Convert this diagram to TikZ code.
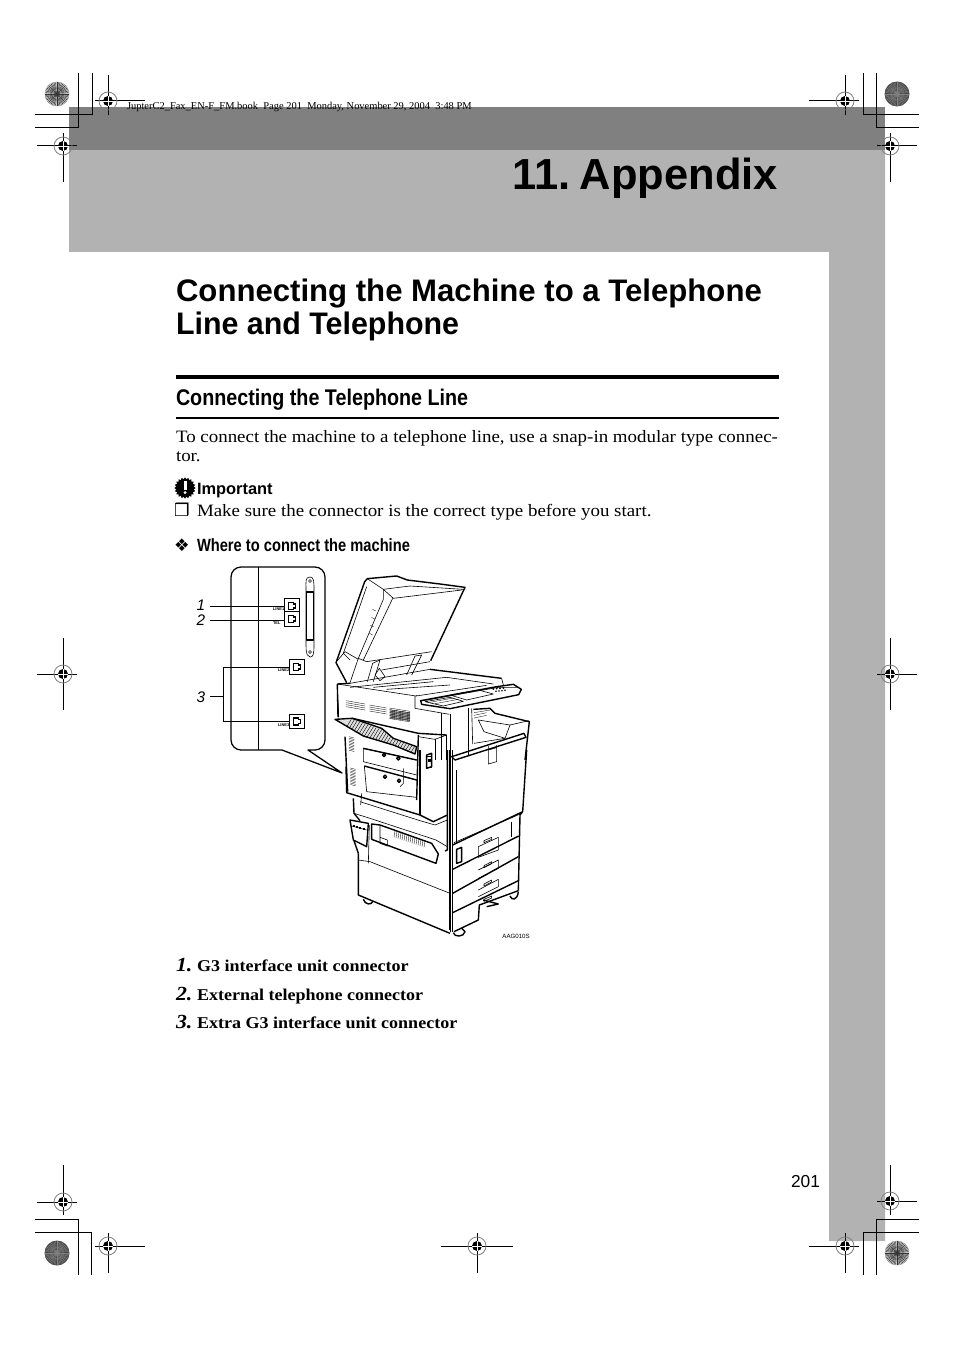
\documentclass[tikz,border=0pt]{standalone}
\usepackage{fontspec}
\usetikzlibrary{shapes.geometric}
\setmainfont{Liberation Serif}
\newfontfamily\hv{Liberation Sans}
\newfontfamily\pal[FakeStretch=1.09]{Liberation Serif}
\newfontfamily\djv{DejaVu Sans}
\newcommand{\fsz}[1]{\fontsize{#1}{#1}\selectfont}
\definecolor{bandlight}{gray}{0.70}
\definecolor{banddark}{gray}{0.50}
\newcommand{\regmark}[6]{%
  \draw[regline] (#1-#3,#2) -- (#1+#4,#2);
  \draw[regline] (#1,#2-#5) -- (#1,#2+#6);
  \draw[gray,line width=.6pt] (#1,#2) circle[radius=9];
  \fill[black] (#1,#2) circle[radius=5];
  \draw[white,line width=.7pt] (#1-5,#2) -- (#1+5,#2) (#1,#2-5) -- (#1,#2+5);
}
\newcommand{\sunmark}[4]{%
  \fill[#3] (#1,#2) circle[radius=12.5];
  \foreach \a in {0,15,...,345}{\draw[#4,line width=.35pt] (#1,#2) -- ++(\a:12);}
  \foreach \a in {7.5,22.5,...,352.5}{\draw[#4,line width=.25pt] (#1,#2) ++(\a:5) -- ++(\a:7);}
}
\newcommand{\jackface}[2]{%
  \draw[line width=.9pt,fill=white] (#1-3.5,#2-3.5) -- (#1+1.5,#2-3.5) -- (#1+1.5,#2-2) -- (#1+3.5,#2-2) -- (#1+3.5,#2+2) -- (#1+1.5,#2+2) -- (#1+1.5,#2+3.5) -- (#1-3.5,#2+3.5) -- cycle;
}
\tikzset{
  regline/.style={black,line width=.75pt},
  cropline/.style={black,line width=.75pt},
  txt/.style={anchor=base west,inner sep=0pt,outer sep=0pt},
  txte/.style={anchor=base east,inner sep=0pt,outer sep=0pt},
  bodyt/.style={txt,font=\pal\fsz{13.02}},
  listt/.style={txt,font=\pal\bfseries\fsz{12.4}},
  listn/.style={txt,font=\pal\bfseries\itshape\fsz{15}},
  lead/.style={black,line width=.7pt},
  jackbox/.style={draw=black,line width=.9pt,minimum width=11.5,minimum height=11,inner sep=0pt,outer sep=0pt,fill=white},
  tiny/.style={txt,font=\hv\bfseries\fsz{3}},
  calln/.style={anchor=base,inner sep=0pt,font=\hv\itshape\fsz{11.5}},
  hv1/.style={line width=1.05pt,line join=round},
  hv2/.style={line width=.45pt,line join=round},
  hv3/.style={line width=.25pt}
}
\begin{document}
\begin{tikzpicture}[x=.75pt,y=-.75pt]
\useasboundingbox (0,0) rectangle (954,1348);
\fill[white] (0,0) rectangle (954,1348);
% page bands
\fill[bandlight] (69,150) -- (885,150) -- (885,1241) -- (829,1241) -- (829,252) -- (69,252) -- cycle;
\fill[banddark] (69,107) rectangle (885,150);
% crop marks
\draw[cropline] (35,115) -- (92,115) -- (92,73);
\draw[cropline] (35,128) -- (78,128) -- (78,73);
\draw[cropline] (919,115) -- (863,115) -- (863,73);
\draw[cropline] (919,128) -- (876,128) -- (876,73);
\draw[cropline] (35,1219) -- (78,1219) -- (78,1275);
\draw[cropline] (35,1232) -- (91,1232) -- (91,1275);
\draw[cropline] (919,1219) -- (876,1219) -- (876,1275);
\draw[cropline] (919,1232) -- (863,1232) -- (863,1275);
\regmark{108}{101}{13}{37}{26}{14}
\regmark{63}{146}{26}{14}{13}{36}
\regmark{845}{101}{36}{14}{26}{14}
\regmark{890}{146}{13}{27}{13}{36}
\regmark{63}{674}{26}{14}{36}{36}
\regmark{890}{674}{13}{27}{36}{36}
\regmark{63}{1202}{26}{14}{37}{13}
\regmark{108}{1246}{13}{37}{13}{27}
\regmark{477}{1246}{36}{36}{13}{27}
\regmark{845}{1246}{36}{14}{13}{27}
\regmark{890}{1201}{13}{27}{36}{14}
\sunmark{57}{94}{gray!45}{black!80}
\sunmark{897}{94}{black!72}{black!50}
\sunmark{57}{1253}{black!72}{black!50}
\sunmark{897}{1253}{gray!45}{black!80}
% text
\node[txt,font=\fsz{7.85}] (hdr) at (127,110) {JupterC2\_Fax\_EN-F\_FM.book\ \ Page 201\ \ Monday, November 29, 2004\ \ 3:48 PM};
\node[txte,font=\hv\bfseries\fsz{32.6}] (chap) at (778,189.5) {11.\hspace{-5pt} Appendix};
\node[txt,font=\hv\bfseries\fsz{23.35}] (h1a) at (176,301) {Connecting the Machine to a Telephone};
\node[txt,font=\hv\bfseries\fsz{23.35}] (h1b) at (176,334) {\scalebox{.976}[1]{Line and Telephone}};
\draw[black,line width=2.4pt] (176,377) -- (779,377);
\node[txt,font=\hv\bfseries\fsz{17}] (h2) at (176,405) {\scalebox{.87}[1]{Connecting the Telephone Line}};
\draw[black,line width=1.6pt] (176,418) -- (779,418);
\node[bodyt] (p1) at (176,442) {To connect the machine to a telephone line, use a snap-in modular type connec-};
\node[bodyt] (p2) at (176,461) {tor.};
\node[star,star points=20,star point ratio=1.2,fill=black,minimum size=16,inner sep=0pt] (gear) at (185,488) {};
\fill[white] (183.6,480.5) rectangle (186.6,490);
\fill[white] (185.1,492.5) circle[radius=1.6];
\node[txt,font=\hv\bfseries\fsz{12.3}] (imp) at (197,494) {Important};
\node[txt,font=\djv\fsz{13}] (chk) at (174,516) {❒};
\node[bodyt] (make) at (197,516) {Make sure the connector is the correct type before you start.};
\node[txt,font=\djv\fsz{13}] (dia) at (174,551) {❖};
\node[txt,font=\hv\bfseries\fsz{13.3}] (where) at (197,551) {\scalebox{.828}[1]{Where to connect the machine}};
\node[listn] (n1) at (176,971) {1.};
\node[listt] (l1) at (197,971) {G3 interface unit connector};
\node[listn] (n2) at (176,1000) {2.};
\node[listt] (l2) at (197,1000) {External telephone connector};
\node[listn] (n3) at (176,1028) {3.};
\node[listt] (l3) at (197,1028) {Extra G3 interface unit connector};
\node[txt,font=\hv\fsz{13}] (pg) at (791,1187.5) {201};
% callout
\draw[line width=.95pt,line join=round] (282,750) -- (241,750) arc[start angle=90,end angle=180,radius=10] -- (231,577) arc[start angle=180,end angle=270,radius=10] -- (315,567) arc[start angle=270,end angle=360,radius=10] -- (325,740) arc[start angle=0,end angle=90,radius=10] -- (308,750) -- (342,773) -- cycle;
\draw[line width=.7pt] (258,567) -- (258,750);
% slot
\draw[hv2] (310,577) .. controls (305,577) and (306,582) .. (306,590) -- (306,645) .. controls (306,656) and (308,656) .. (310,657) .. controls (313,657) and (314,655) .. (314,645) -- (314,590) .. controls (314,582) and (314,577) .. (310,577);
\draw[hv1] (306.5,592) -- (306.5,640) -- (313.5,640) -- (313.5,592) -- cycle;
\draw[hv2] (310,581) circle[radius=1.5] (310,652) circle[radius=1.5];
% jacks
\node[jackbox] (jack1) at (292,606) {};
\node[jackbox] (jack2) at (292,619) {};
\node[jackbox] (jack3) at (297,667) {};
\node[jackbox] (jack4) at (297,721.5) {};
\jackface{292}{606}\jackface{292}{619}\jackface{297}{667}\jackface{297}{721.5}
\node[tiny] (t1) at (273,610.5) {LINE1};
\node[tiny] (t2) at (273,624) {TEL};
\node[tiny] (t3) at (278,671.5) {LINE2};
\node[tiny] (t4) at (278,726) {LINE3};
\node[calln] (c1) at (201,610) {1};
\node[calln] (c2) at (201,625) {2};
\node[calln] (c3) at (201,702) {3};
\coordinate (e1) at (210,606);
\coordinate (e2) at (210,620);
\coordinate (e3) at (210,696);
\coordinate (br) at (223,696);
\draw[lead] (e1) -- (jack1.west);
\draw[lead] (e2) -- (jack2.west |- e2);
\draw[lead] (e3) -- (br);
\draw[lead] (jack3.west) -- (jack3.west -| br) -- (jack4.west -| br) -- (jack4.west);
% ---- machine, upper part (crop coordinates)
\begin{scope}[shift={(330,570)},x=.25pt,y=-.25pt]
\draw[hv1] (50,338) -- (18,278) -- (104,35) -- (112,26) -- (200,18) -- (232,30) -- (330,42) -- (405,52) -- (302,272);
\draw[hv2] (112,26) -- (160,58) -- (240,48) -- (400,58);
\draw[hv2] (160,58) -- (190,85) -- (395,60);
\draw[hv2] (160,58) -- (160,88) -- (85,265) -- (60,338);
\draw[hv2] (188,85) -- (100,270);
\draw[hv2] (110,50) -- (40,250) -- (60,270);
\draw[hv2] (22,272) -- (45,245) -- (85,268);
\draw[hv2] (85,265) -- (110,275) -- (305,245);
\draw[hv2] (155,300) -- (300,275);
\draw[hv2] (112,335) -- (128,280) -- (150,270) -- (130,335);
\draw[hv2] (135,315) -- (148,295) -- (165,320) -- (150,332) -- cycle;
\draw[hv2] (230,315) -- (255,258) -- (275,255) -- (245,315);
\foreach \i in {0,8,16,24}{\draw[hv3] (118+\i*.4,190-\i*3) -- (128+\i*.4,195-\i*3);}
\draw[hv1] (22,342) -- (60,340);
\draw[hv2] (60,340) -- (300,298);
\draw[hv1] (300,298) -- (515,325);
\draw[hv2] (515,325) -- (520,345);
\draw[hv2] (22,342) -- (258,378) -- (262,376);
\draw[hv2] (60,352) -- (350,322) -- (490,342);
\draw[hv2] (130,352) -- (310,335);
\draw[hv2] (170,358) -- (360,345);
\draw[hv2] (258,378) -- (470,346);
\draw[hv1] (22,342) -- (24,440);
\draw[hv2] (255,378) -- (255,415) -- (358,433);
% panel
\draw[hv1] (272,392) -- (500,350) -- (550,343) -- (574,358) -- (566,374) -- (360,416) -- (275,403) -- cycle;
\draw[hv2] (280,392) -- (505,352) -- (562,352);
\draw[hv2] (360,375) -- (445,360) -- (490,372) -- (410,390) -- cycle;
\draw[hv2] (285,395) -- (360,382) -- (400,394) -- (340,408) -- cycle;
\draw[hv3] (300,397) -- (370,384) (315,401) -- (385,388);
\foreach \i in {0,1,2,3}{\fill (490+\i*10,357-\i*1) circle[radius=3];\fill (498+\i*9,364-\i*1) circle[radius=2.6];}
% vents
\foreach \j in {0,1,2,3}{%
  \draw[hv3] (48,392+\j*6) -- (105,402+\j*6);
  \draw[hv3] (118,405+\j*6) -- (170,414+\j*6);}
\foreach \j in {0,...,7}{\draw[hv3] (178,414+\j*4.5) -- (240,424+\j*4.5);}
% body verticals
\draw[hv2] (335,430) -- (335,570) (360,433) -- (360,570);
\draw[hv2] (415,415) -- (415,555);
\draw[hv2] (425,415) -- (428,522);
\draw[hv1] (430,418) -- (480,415) -- (495,430) -- (598,455) -- (585,570);
\draw[hv2] (445,450) -- (540,465) -- (525,505) -- (462,485) -- cycle;
\draw[hv3] (432,428) -- (480,420) (432,436) -- (470,428) (432,444) -- (470,436);
\draw[hv2] (540,465) -- (596,452);
\draw[hv2] (432,520) -- (525,505);
\draw[hv1] (365,560) -- (582,490) -- (588,502) -- (375,570) -- cycle;
\end{scope}
% door handle
\begin{scope}[shift={(440,670)},x=.25pt,y=-.25pt]
\draw[hv2] (145,228) -- (145,282) -- (170,275) -- (170,225);
\draw[hv2] (145,240) -- (170,233);
\end{scope}
% exit tray and side door
\begin{scope}[shift={(335,680)},x=.25pt,y=-.25pt]
\draw[hv1] (8,60) -- (10,112);
\draw[hv1] (30,170) -- (38,335);
\begin{scope}
\clip (2,120) -- (55,118) -- (140,148) -- (175,178) -- (245,202) -- (240,222) -- (175,195) -- (85,168) -- cycle;
\fill[gray!25] (0,110) rectangle (250,230);
\foreach \i in {0,5,...,120}{\draw[line width=.3pt] (\i*2-20,230) -- (\i*2+60,100);}
\end{scope}
\draw[hv1] (0,118) -- (52,115) -- (140,145) -- (175,175) -- (245,200) -- (240,222) -- (175,195) -- (85,168) -- cycle;
\draw[hv1] (52,115) -- (250,160) -- (335,165);
\draw[hv1] (250,165) -- (245,360);
\draw[hv2] (250,170) -- (300,178) -- (335,165);
\draw[hv1] (335,165) -- (335,240);
\draw[hv2] (300,178) -- (300,240);
\draw[hv2] (85,205) -- (245,240) (85,205) -- (85,245) -- (245,285);
\draw[hv1] (85,205) -- (245,240);
\draw[hv1] (88,258) -- (245,300);
\draw[hv2] (88,258) -- (95,335) -- (245,352);
\draw[hv2] (205,265) -- (205,310) -- (195,320);
\draw[hv2] (205,290) -- (245,300);
\draw[hv1] (147,225) circle[radius=5] (190,235) circle[radius=5] (150,290) circle[radius=5] (192,302) circle[radius=5];
\draw[hv2] (275,228) rectangle (290,262);
\fill (279,238) rectangle (287,247);
\foreach \j in {0,...,9}{\draw[hv3] (42,170+\j*4.5) -- (58,174+\j*4.5);}
\foreach \j in {0,...,11}{\draw[hv3] (46,264+\j*4.5) -- (62,268+\j*4.5);}
\foreach \j in {0,...,8}{\draw[hv3] (165,90+\j*3) -- (225,98+\j*3);}
\end{scope}
% lower part
\begin{scope}[shift={(330,750)},x=.25pt,y=-.25pt]
\draw[hv1] (48,50) -- (50,128) -- (270,195) -- (310,215) -- (352,195);
\draw[hv1] (270,0) -- (270,195);
\draw[hv1] (352,0) -- (352,300) -- (345,303);
\draw[hv2] (358,0) -- (358,540);
\draw[hv1] (362,0) -- (362,545);
\draw[hv2] (95,130) -- (92,165);
\draw[hv1] (70,145) -- (72,190) -- (90,212);
\draw[hv2] (90,155) -- (270,212) -- (315,225) -- (352,210);
\draw[hv2] (72,190) -- (120,205) -- (318,270) -- (352,290);
\draw[hv1] (125,222) -- (125,268) -- (318,340) -- (325,312) -- (305,280) -- (150,225) -- cycle;
\draw[hv2] (150,225) -- (150,280) -- (172,288) -- (172,270) -- (150,262);
\foreach \i in {0,2,...,30}{\draw[hv3] (195+\i*3,242+\i) -- (192+\i*3,262+\i);}
\draw[hv1] (60,210) -- (115,220) -- (110,290) -- (70,270) -- cycle;
\draw[hv2] (65,228) -- (110,240);
\foreach \i in {0,1,2,3}{\fill (68+\i*10,232+\i*3) rectangle ++(6,-8);}
\draw[hv2] (118,225) -- (115,340);
\draw[hv1] (85,310) -- (85,435) -- (360,550);
\draw[hv2] (85,330) -- (120,335) -- (360,430);
\draw[hv1] (72,272) -- (85,310);
\draw[hv1] (100,448) .. controls (105,465) and (125,465) .. (128,455);
\draw[hv1] (370,548) .. controls (372,562) and (402,562) .. (405,545) -- (395,535);
\draw[hv1] (540,438) .. controls (545,452) and (562,452) .. (565,425);
% right door and drawers
\draw[hv1] (590,0) -- (578,185);
\draw[hv1] (368,0) -- (368,285);
\draw[hv1] (380,60) -- (380,280);
\draw[hv1] (368,285) -- (578,185) -- (570,195) -- (565,422);
\draw[hv2] (372,278) -- (575,190);
\draw[hv2] (545,215) -- (545,262);
\draw[hv1] (368,285) -- (368,545);
\draw[hv1] (368,358) -- (566,258);
\draw[hv1] (368,430) -- (565,320);
\draw[hv1] (368,488) -- (565,392);
\draw[hv1] (372,545) -- (445,510) -- (448,465) -- (565,422);
\draw[hv2] (445,290) -- (505,262) -- (505,300) -- (445,322) -- cycle;
\draw[hv2] (462,272) -- (485,262) -- (485,268) -- (462,278) -- cycle;
\draw[hv2] (445,360) -- (505,330) -- (505,355) -- (445,385);
\draw[hv2] (462,347) -- (485,335) -- (485,341) -- (462,353) -- cycle;
\draw[hv2] (445,420) -- (505,388) -- (505,410) -- (445,440);
\draw[hv2] (462,402) -- (485,390) -- (485,396) -- (462,408) -- cycle;
\draw[hv1] (460,450) -- (505,462) -- (470,470);
\draw[hv2] (462,448) -- (485,438) -- (485,444) -- (462,454) -- cycle;
\draw[hv1] (380,298) -- (395,292) -- (395,335) -- (380,340) -- cycle;
\draw[hv1] (290,15) -- (305,10) -- (305,50) -- (290,55) -- cycle;
\end{scope}
\node[anchor=base east,inner sep=0pt,font=\hv\fsz{4.6}] (aag) at (530,938) {AAG010S};
\end{tikzpicture}
\end{document}
